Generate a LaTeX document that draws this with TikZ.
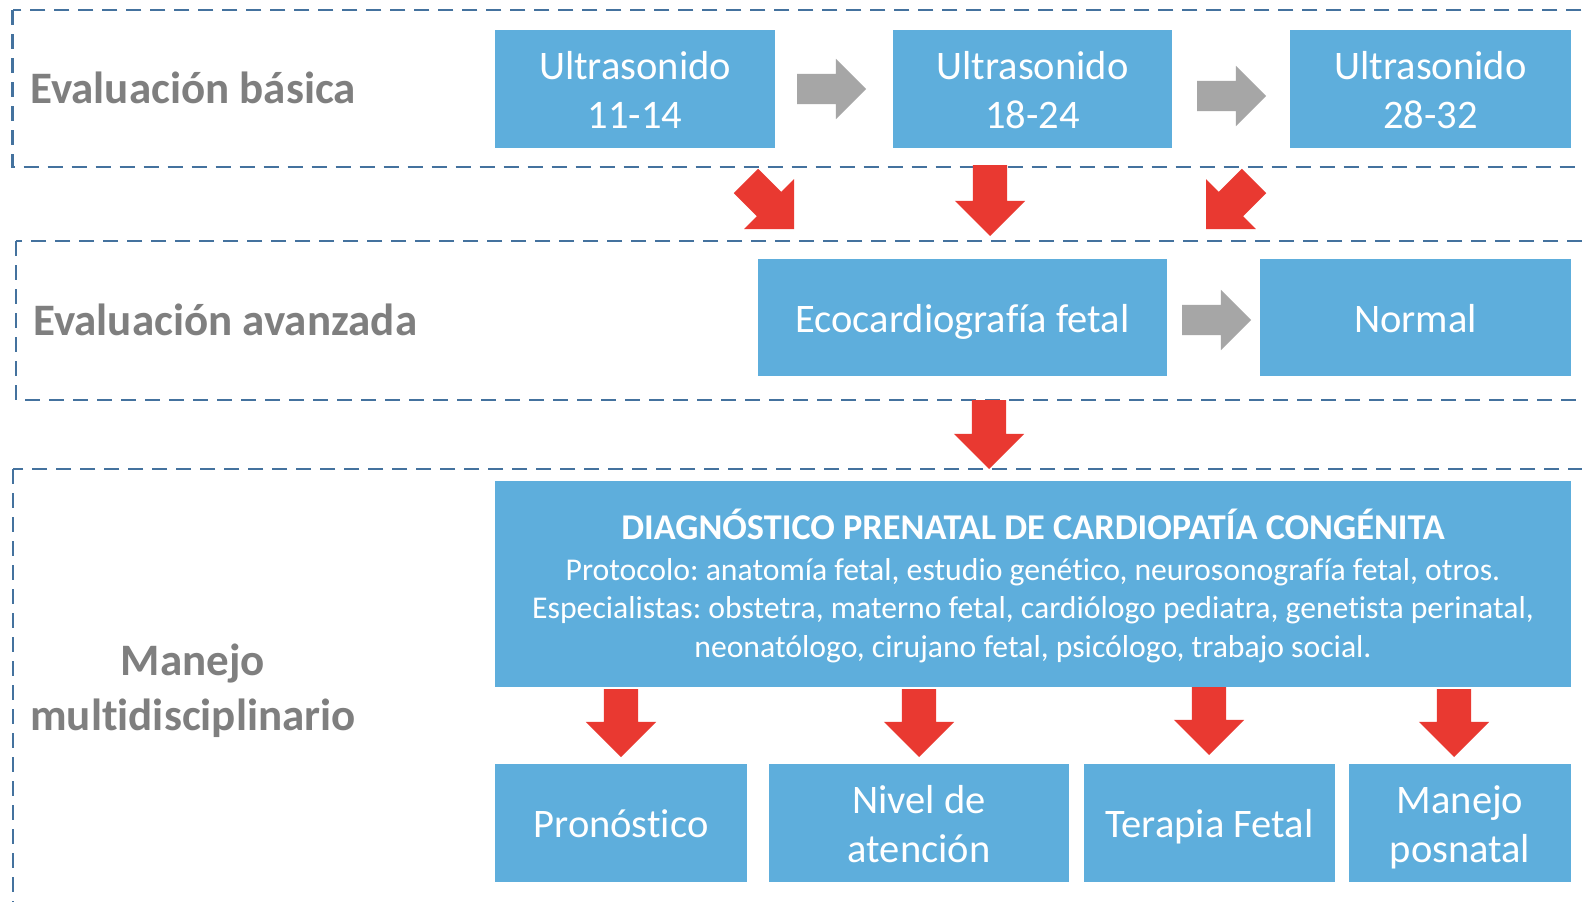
\documentclass[tikz,border=0pt]{standalone}
\usepackage{fontspec}
\setmainfont{Carlito}[Ligatures=NoCommon]
\usetikzlibrary{shapes.arrows}
\definecolor{boxblue}{RGB}{94,174,220}
\definecolor{arrred}{RGB}{233,57,49}
\definecolor{arrgray}{RGB}{166,166,166}
\definecolor{lblgray}{RGB}{127,127,127}
\definecolor{frameblue}{RGB}{68,114,158}
\newcommand\bxs{\rule[-9pt]{0pt}{47pt}}
\frenchspacing
\begin{document}
\begin{tikzpicture}[x=1pt,y=-1pt,
  frame/.style={draw=frameblue, line width=2.7pt, dash pattern=on 15pt off 9pt},
  bbox/.style={fill=boxblue, text=white, inner sep=0pt, outer sep=0pt, align=center,
    anchor=north west, font=\fontsize{40.5}{49}\selectfont},
  lbl/.style={text=lblgray, font=\fontsize{45}{55}\selectfont\bfseries, inner sep=0pt},
  redarr/.style={single arrow, fill=arrred, draw=none, minimum height=69pt,
    inner xsep=0pt, inner ysep=17pt, single arrow head extend=18pt,
    single arrow tip angle=90, outer sep=0pt, anchor=tip},
  grayarr/.style={single arrow, fill=arrgray, draw=none, minimum height=69pt,
    inner xsep=0pt, inner ysep=15pt, single arrow head extend=15pt,
    single arrow tip angle=90, outer sep=0pt, anchor=tip}
]
\useasboundingbox (0,0) rectangle (1582,902);
\clip (0,0) rectangle (1582,902);
\fill[white] (0,0) rectangle (1582,902);

% frames
\draw[frame] (12.7,10) rectangle (1600,167);
\draw[frame] (16,241) rectangle (1600,400);
\draw[frame] (13,469) rectangle (1600,915);

% labels
\node[lbl, anchor=base west] (lbasic) at (30,103) {Evaluación básica};
\node[lbl, anchor=base west] (ladv) at (33,335) {Evaluación avanzada};
\node[lbl, align=center] (lmulti) at (193,691) {Manejo\\multidisciplinario};

% row 1
\node[bbox, minimum width=280pt, minimum height=118pt] (u1) at (495,30) {\bxs Ultrasonido\\\bxs 11-14};
\node[bbox, minimum width=279pt, minimum height=118pt] (u2) at (893,30) {\bxs Ultrasonido\\\bxs 18-24};
\node[bbox, minimum width=281pt, minimum height=118pt] (u3) at (1290,30) {\bxs Ultrasonido\\\bxs 28-32};
\node[grayarr] (g1) at (866,89) {};
\node[grayarr] (g2) at (1266,96) {};

% row 2
\node[bbox, minimum width=409pt, minimum height=117pt] (eco) at (758,259) {\bxs Ecocardiografía fetal};
\node[bbox, minimum width=311pt, minimum height=117pt] (normal) at (1260,259) {\bxs Normal};
\node[grayarr] (g3) at (1251,320) {};

% red arrows between row 1 and 2
\node[redarr, rotate=-45, minimum height=68pt] (r1) at (794,229) {};
\node[redarr, rotate=-90, minimum height=71pt] (r2) at (990,236) {};
\node[redarr, rotate=-135, minimum height=68pt] (r3) at (1206,229) {};
\node[redarr, rotate=-90] (r4) at (989,469) {};

% big box
\node[bbox, minimum width=1076pt, minimum height=206pt] (diag) at (495,481) {};
\node[text=white, inner sep=0pt, align=center, font=\fontsize{31.7}{38.5}\selectfont]
 (diagtext) at ([yshift=-2pt]diag.center)
 {{\fontsize{36.3}{38.5}\selectfont\bfseries DIAGNÓSTICO PRENATAL DE CARDIOPATÍA CONGÉNITA}\\[2pt]
  Protocolo: anatomía fetal, estudio genético, neurosonografía fetal, otros.\\
  Especialistas: obstetra, materno fetal, cardiólogo pediatra, genetista perinatal,\\
  neonatólogo, cirujano fetal, psicólogo, trabajo social.};

% bottom row
\node[redarr, rotate=-90, minimum height=68pt] (r5) at (621,757) {};
\node[redarr, rotate=-90, minimum height=68pt] (r6) at (919,757) {};
\node[redarr, rotate=-90, minimum height=68pt] (r7) at (1209,755) {};
\node[redarr, rotate=-90, minimum height=68pt] (r8) at (1454,757) {};
\node[bbox, minimum width=252pt, minimum height=118pt] (b1) at (495,764) {\bxs Pronóstico};
\node[bbox, minimum width=300pt, minimum height=118pt] (b2) at (769,764) {\bxs Nivel de\\\bxs atención};
\node[bbox, minimum width=251pt, minimum height=118pt] (b3) at (1084,764) {\bxs Terapia Fetal};
\node[bbox, minimum width=222pt, minimum height=118pt] (b4) at (1349,764) {\bxs Manejo\\\bxs posnatal};
\end{tikzpicture}
\end{document}
